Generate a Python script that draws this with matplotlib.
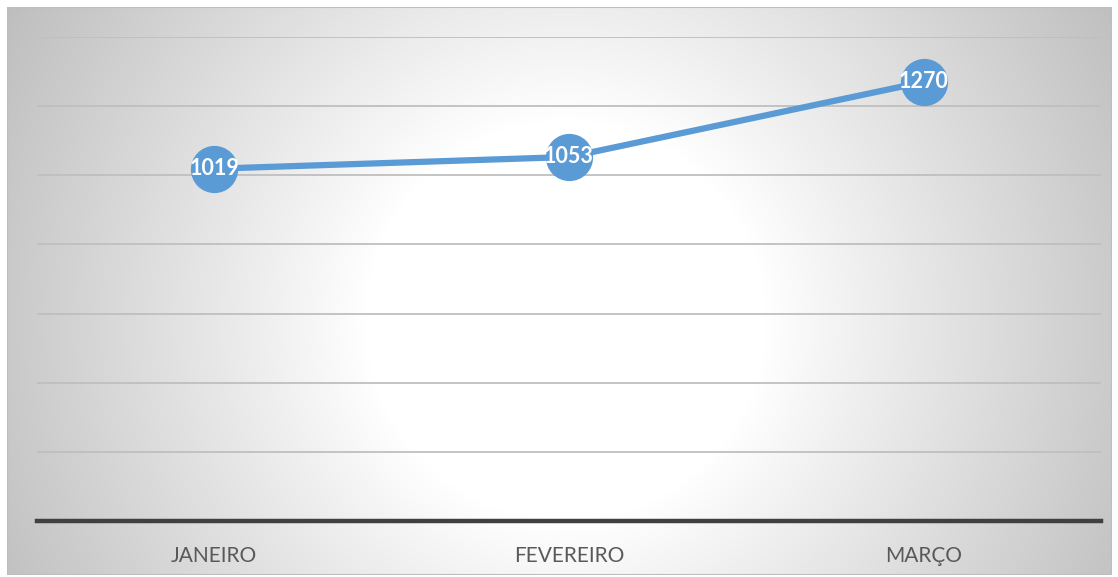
import numpy as np
import matplotlib
matplotlib.use("Agg")
import matplotlib.pyplot as plt

categories = ["JANEIRO", "FEVEREIRO", "MARÇO"]
values = [1019, 1053, 1270]
y_max = 1400
y_step = 200

W, H = 1118, 577
fig = plt.figure(figsize=(W / 100, H / 100), dpi=100)
fig.patch.set_facecolor("white")

# background radial gradient (chart area), computed in pixel space
x0, x1, y0, y1 = 7, 1112, 7, 575
bg = fig.add_axes([x0 / W, 1 - y1 / H, (x1 - x0) / W, (y1 - y0) / H])
bg.set_axis_off()
px = np.arange(x0, x1)
py = np.arange(y0, y1)
XX, YY = np.meshgrid(px, py)
r = np.sqrt((XX - 565) ** 2 + (YY - 320) ** 2)
t = np.clip((r - 200) / (650 - 200), 0, 1) ** 0.95
c0 = np.array([1.0, 1.0, 1.0])
c1 = np.array([0.74, 0.74, 0.74])
img = c0[None, None, :] * (1 - t[..., None]) + c1[None, None, :] * t[..., None]
bg.imshow(img, aspect="auto", extent=[0, 1, 0, 1], interpolation="bilinear",
          origin="upper")
bg.add_patch(plt.Rectangle((0, 0), 1, 1, transform=bg.transAxes, fill=False,
                           edgecolor="#bdbdbd", linewidth=1.5))
bg.set_xlim(0, 1)
bg.set_ylim(0, 1)

ax = fig.add_axes([37 / W, 1 - 521 / H, (1101 - 37) / W, (521 - 37) / H])
ax.patch.set_alpha(0)
x = np.arange(len(categories)) + 0.5
ax.set_xlim(0, len(categories))
ax.set_ylim(0, y_max)

for yv in np.arange(y_step, y_max + 1, y_step):
    ax.axhline(yv, color="#bfbfbf", linewidth=1.3, zorder=1)
ax.axhline(0, color="#404040", linewidth=3.2, zorder=2, clip_on=False)

ax.plot(x, values, color="#5B9BD5", linewidth=4.5, marker="o", markersize=33,
        markerfacecolor="#5B9BD5", markeredgecolor="#5B9BD5", zorder=3,
        solid_capstyle="round")
for xi, v in zip(x, values):
    ax.text(xi, v, str(v), color="white", fontsize=15.5, fontweight="bold",
            family="Lato", ha="center", va="center", zorder=4)

ax.set_yticks([])
ax.set_xticks(x)
ax.set_xticklabels(categories, fontsize=15, color="#595959", family="Lato")
ax.tick_params(axis="x", length=0, pad=18)
for s in ax.spines.values():
    s.set_visible(False)

fig.savefig("out.png", dpi=100, facecolor="white")
